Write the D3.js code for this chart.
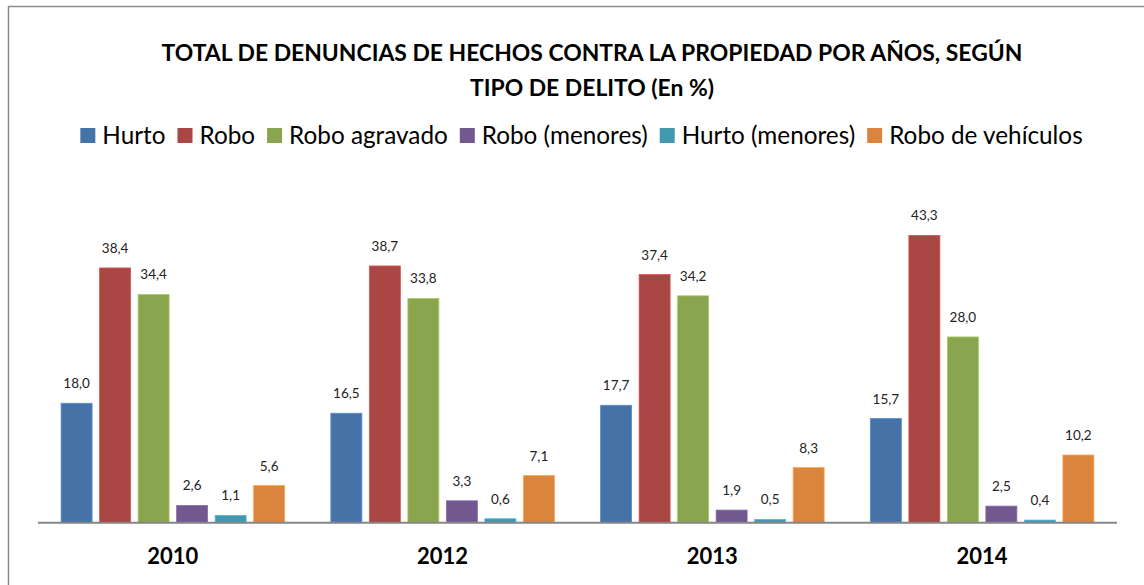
<!DOCTYPE html>
<html>
<head>
<meta charset="utf-8">
<script src="https://cdn.jsdelivr.net/npm/d3@7"></script>
<style>
  body { margin: 0; background: #fff; }
  svg { display: block; font-family: Lato, "Noto Sans", sans-serif; }
</style>
</head>
<body>
<div id="chart"></div>
<script>
// chart data
const years = ['2010', '2012', '2013', '2014'];
const seriesNames = ['Hurto', 'Robo', 'Robo agravado', 'Robo (menores)', 'Hurto (menores)', 'Robo de vehículos'];
const colors = ['#4572A7', '#AA4643', '#89A54E', '#71588F', '#4198AF', '#DB843D'];
const hurto = [18.0, 16.5, 17.7, 15.7];
const robo = [38.4, 38.7, 37.4, 43.3];
const roboAgravado = [34.4, 33.8, 34.2, 28.0];
const roboMenores = [2.6, 3.3, 1.9, 2.5];
const hurtoMenores = [1.1, 0.6, 0.5, 0.4];
const roboVehiculos = [5.6, 7.1, 8.3, 10.2];
const titleLines = ['TOTAL DE DENUNCIAS DE HECHOS CONTRA LA PROPIEDAD POR AÑOS, SEGÚN', 'TIPO DE DELITO (En %)'];

const allSeries = [hurto, robo, roboAgravado, roboMenores, hurtoMenores, roboVehiculos];

const width = 1144, height = 585;
const svg = d3.select('#chart').append('svg')
  .attr('width', width)
  .attr('height', height);

// outer frame
svg.append('rect')
  .attr('x', 8.5).attr('y', 6.5)
  .attr('width', 1150).attr('height', 600)
  .attr('fill', 'none')
  .attr('stroke', '#8c8c8c')
  .attr('stroke-width', 1.5);

// title
svg.append('g').selectAll('text')
  .data(titleLines)
  .enter().append('text')
  .attr('x', 592)
  .attr('y', (d, i) => 61 + i * 35)
  .attr('text-anchor', 'middle')
  .attr('font-size', 22.9)
  .attr('font-weight', 'bold')
  .attr('fill', '#000')
  .text(d => d);

// scales
const x0 = d3.scaleBand().domain(years).range([38, 1117]);
const x1 = d3.scaleBand().domain(seriesNames).range([0, x0.bandwidth()])
  .paddingInner(0.195).paddingOuter(0.6);
const y = d3.scaleLinear().domain([0, 50]).range([522.7, 191]);

// bars
const rows = years.map((yr, i) => ({ year: yr, values: allSeries.map((s, k) => ({ name: seriesNames[k], k: k, v: s[i] })) }));

const groups = svg.append('g').selectAll('g')
  .data(rows)
  .enter().append('g')
  .attr('transform', d => `translate(${x0(d.year)},0)`);

groups.selectAll('rect')
  .data(d => d.values)
  .enter().append('rect')
  .attr('x', d => x1(d.name))
  .attr('y', d => y(d.v))
  .attr('width', x1.bandwidth())
  .attr('height', d => y(0) - y(d.v))
  .attr('fill', d => colors[d.k])
  .attr('stroke', d => d3.color(colors[d.k]).brighter(0.6))
  .attr('stroke-width', 0.8);

// value labels
groups.selectAll('text')
  .data(d => d.values)
  .enter().append('text')
  .attr('x', d => x1(d.name) + x1.bandwidth() / 2)
  .attr('y', d => y(d.v) - 15)
  .attr('text-anchor', 'middle')
  .attr('font-size', 13.5)
  .attr('fill', '#222')
  .text(d => d3.format('.1f')(d.v).replace('.', ','));

// x axis
svg.append('line')
  .attr('x1', 38).attr('x2', 1117)
  .attr('y1', y(0)).attr('y2', y(0))
  .attr('stroke', '#868686')
  .attr('stroke-width', 2);

svg.append('g').selectAll('text')
  .data(years)
  .enter().append('text')
  .attr('x', d => x0(d) + x0.bandwidth() / 2)
  .attr('y', 564)
  .attr('text-anchor', 'middle')
  .attr('font-size', 22)
  .attr('font-weight', 'bold')
  .attr('fill', '#000')
  .text(d => d);

// legend
const legend = svg.append('g');
const items = legend.selectAll('g')
  .data(seriesNames)
  .enter().append('g');
items.append('rect')
  .attr('width', 15).attr('height', 15)
  .attr('y', 128)
  .attr('fill', (d, i) => colors[i]);
items.append('text')
  .attr('x', 22)
  .attr('y', 144)
  .attr('font-size', 24.3)
  .attr('fill', '#000')
  .text(d => d);

// place legend items side by side, centred
let pos = 0;
const offsets = [];
items.each(function () {
  offsets.push(pos);
  const w = d3.select(this).select('text').node().getComputedTextLength();
  pos += 22 + w + 12;
});
const total = pos - 12;
const startX = 581.5 - total / 2;
items.attr('transform', (d, i) => `translate(${startX + offsets[i]},0)`);
</script>
</body>
</html>
